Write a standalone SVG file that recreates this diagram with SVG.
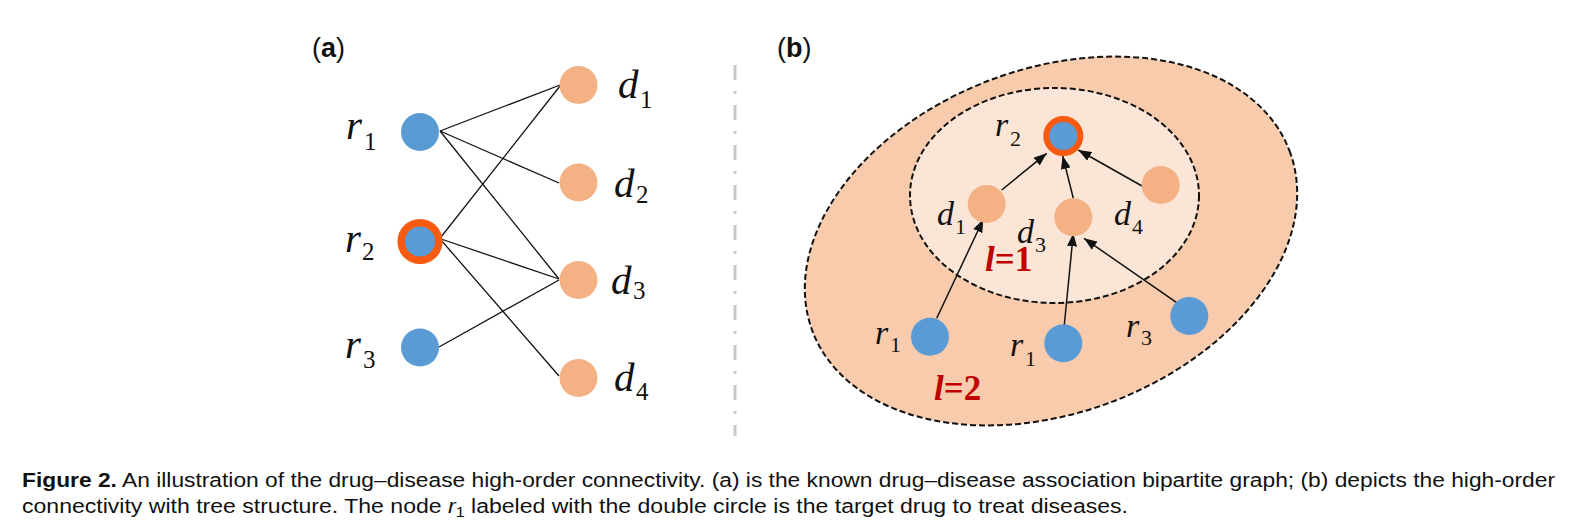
<svg xmlns="http://www.w3.org/2000/svg" width="1574" height="525" viewBox="0 0 1574 525">
<style>
.lbl{font-family:"Liberation Serif","Times New Roman",serif;font-style:italic;fill:#111}
.la{font-size:41px}
.sa{font-size:25px;font-style:normal}
.lb{font-size:34px}
.sb{font-size:22px;font-style:normal}
.blue{fill:#5B9BD5}
.peach{fill:#F4B183}
.ring{fill:#5B9BD5;stroke:#F95A12}
.edge{stroke:#111;stroke-width:1.3;fill:none}
.arr{stroke:#111;stroke-width:1.5;fill:none;marker-end:url(#ah)}
.lev{font-family:"Liberation Serif","Times New Roman",serif;font-weight:bold;font-size:35px;fill:#C00000}
.panel{font-family:"Liberation Sans",Arial,sans-serif;font-size:27px;fill:#111}
.cap{font-family:"Liberation Sans Narrow","Liberation Sans",Arial,sans-serif;font-size:20px;fill:#111}
</style>
<defs>
<marker id="ah" markerWidth="13" markerHeight="10" refX="13" refY="5" orient="auto" markerUnits="userSpaceOnUse">
<path d="M0,0 L13,5 L0,10 z" fill="#111"/>
</marker>
</defs>
<rect width="1574" height="525" fill="#fff"/>

<g id="panel-labels">
<text class="panel" x="312" y="57">(<tspan font-weight="bold">a</tspan>)</text>
<text class="panel" x="777" y="57">(<tspan font-weight="bold">b</tspan>)</text>
</g>

<g id="separator">
<line x1="735" y1="65" x2="735" y2="436" stroke="#c8c8c8" stroke-width="3" stroke-dasharray="15 11 3 11"/>
</g>

<g id="connectors-a">
<line class="edge" x1="440" y1="131" x2="560" y2="85"/>
<line class="edge" x1="440" y1="131" x2="559" y2="183"/>
<line class="edge" x1="440" y1="131" x2="559" y2="279"/>
<line class="edge" x1="441" y1="237" x2="560" y2="86"/>
<line class="edge" x1="441" y1="239" x2="559" y2="279"/>
<line class="edge" x1="441" y1="240" x2="559" y2="376"/>
<line class="edge" x1="439" y1="347" x2="559" y2="280"/>
</g>

<g id="a-r1"><circle class="blue" cx="420" cy="132" r="19"/><text class="lbl la" x="346" y="139">r</text><text class="lbl sa" x="364" y="150">1</text></g>
<g id="a-r2"><circle class="ring" cx="420" cy="241.5" r="18.8" stroke-width="7.5"/><text class="lbl la" x="345" y="252">r</text><text class="lbl sa" x="362" y="260">2</text></g>
<g id="a-r3"><circle class="blue" cx="420" cy="347.5" r="19"/><text class="lbl la" x="345" y="358">r</text><text class="lbl sa" x="363" y="368">3</text></g>
<g id="a-d1"><circle class="peach" cx="578.5" cy="85" r="19"/><text class="lbl la" x="618" y="98">d</text><text class="lbl sa" x="640" y="108">1</text></g>
<g id="a-d2"><circle class="peach" cx="578.5" cy="182.5" r="19"/><text class="lbl la" x="614" y="197">d</text><text class="lbl sa" x="636" y="203">2</text></g>
<g id="a-d3"><circle class="peach" cx="578.5" cy="280" r="19"/><text class="lbl la" x="611" y="294">d</text><text class="lbl sa" x="633" y="299">3</text></g>
<g id="a-d4"><circle class="peach" cx="578.5" cy="378" r="19"/><text class="lbl la" x="614" y="391">d</text><text class="lbl sa" x="636" y="400">4</text></g>

<g id="outer-region">
<ellipse cx="1051" cy="241" rx="255" ry="172" transform="rotate(-20.7 1051 241)" fill="#F8CBAD" stroke="#111" stroke-width="2" stroke-dasharray="6 3"/>
<text class="lev" x="934" y="400"><tspan font-style="italic">l</tspan>=2</text>
</g>
<g id="inner-region">
<ellipse cx="1054.5" cy="195.5" rx="144.5" ry="107.5" fill="#FBE5D6" stroke="#111" stroke-width="2" stroke-dasharray="6 3"/>
<text class="lev" x="985" y="271"><tspan font-style="italic">l</tspan>=1</text>
</g>

<g id="connectors-b">
<line class="arr" x1="1001.7" y1="190" x2="1046.7" y2="153.3"/>
<line class="arr" x1="1073.3" y1="198.3" x2="1062.7" y2="156"/>
<line class="arr" x1="1142" y1="186" x2="1078.3" y2="150"/>
<line class="arr" x1="936.7" y1="318.3" x2="983.3" y2="219.3"/>
<line class="arr" x1="1064.3" y1="325" x2="1073.3" y2="233.3"/>
<line class="arr" x1="1176.7" y1="302.7" x2="1084" y2="238.3"/>
</g>

<g id="b-r2"><circle class="ring" cx="1063.3" cy="136" r="17" stroke-width="6"/><text class="lbl lb" x="995" y="136">r</text><text class="lbl sb" x="1010" y="146">2</text></g>
<g id="b-d1"><circle class="peach" cx="986.7" cy="204" r="19"/><text class="lbl lb" x="937" y="225">d</text><text class="lbl sb" x="955" y="234">1</text></g>
<g id="b-d3"><circle class="peach" cx="1073.3" cy="217.3" r="19"/><text class="lbl lb" x="1017" y="243">d</text><text class="lbl sb" x="1035" y="252">3</text></g>
<g id="b-d4"><circle class="peach" cx="1160.7" cy="185" r="19"/><text class="lbl lb" x="1114" y="225">d</text><text class="lbl sb" x="1132" y="234">4</text></g>
<g id="b-r1a"><circle class="blue" cx="930" cy="336.7" r="19"/><text class="lbl lb" x="875" y="344">r</text><text class="lbl sb" x="890" y="352">1</text></g>
<g id="b-r1b"><circle class="blue" cx="1063.3" cy="343.3" r="19"/><text class="lbl lb" x="1010" y="356">r</text><text class="lbl sb" x="1025" y="366">1</text></g>
<g id="b-r3"><circle class="blue" cx="1189.3" cy="316" r="19"/><text class="lbl lb" x="1126" y="337">r</text><text class="lbl sb" x="1141" y="345">3</text></g>

<g id="caption">
<text class="cap" x="22" y="487" textLength="1533" lengthAdjust="spacingAndGlyphs"><tspan font-weight="bold">Figure 2.</tspan> An illustration of the drug–disease high-order connectivity. (a) is the known drug–disease association bipartite graph; (b) depicts the high-order</text>
<text class="cap" x="22" y="513" textLength="1106" lengthAdjust="spacingAndGlyphs">connectivity with tree structure. The node <tspan font-style="italic">r</tspan><tspan font-size="14" dy="4">1</tspan><tspan dy="-4"> labeled with the double circle is the target drug to treat diseases.</tspan></text>
</g>
</svg>
